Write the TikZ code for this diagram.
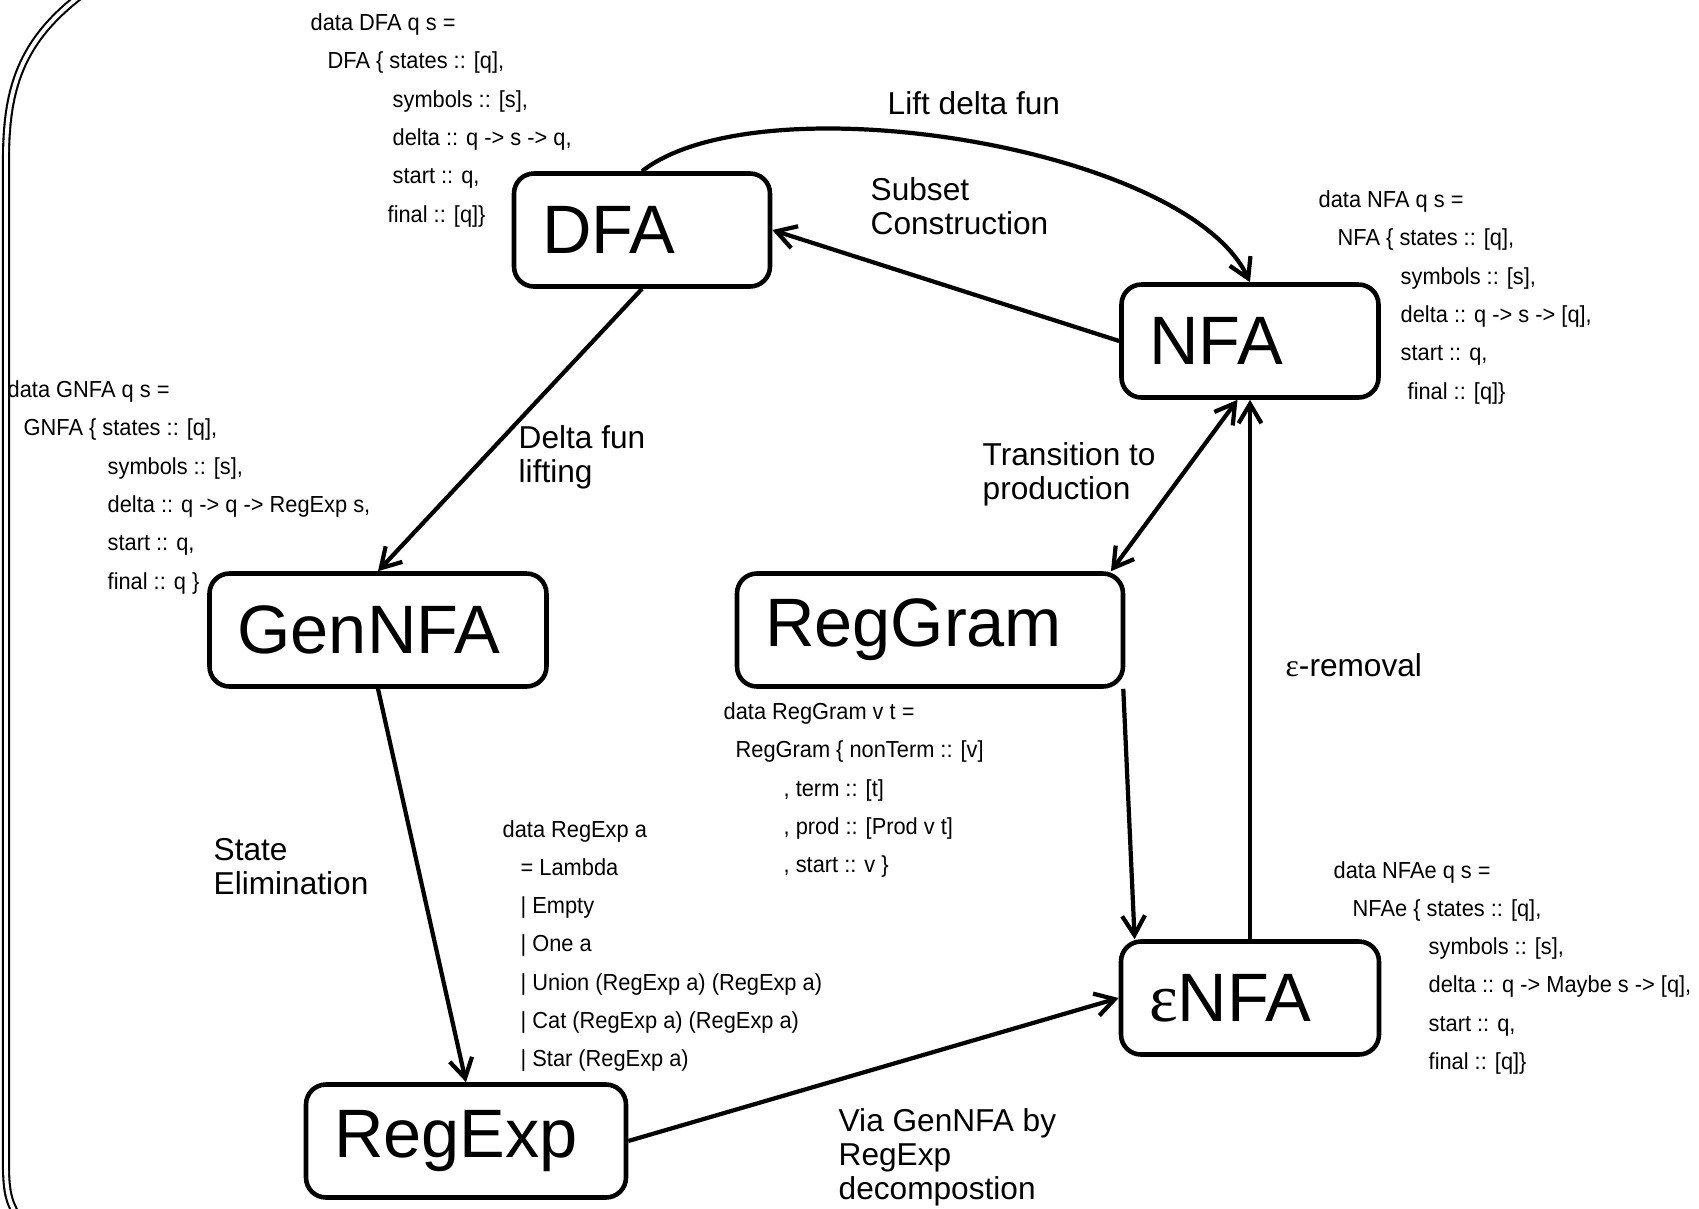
\documentclass[tikz,border=0pt]{standalone}
\usepackage{fontspec}
\setmainfont{Liberation Sans}
\newfontfamily\codefont[FakeStretch=0.94]{Liberation Sans}
\newfontfamily\epsfont{Liberation Serif}
\usetikzlibrary{arrows.meta}

\tikzset{
  autom/.style = {shape=rectangle, rounded corners=0.2cm,
                  draw, line width=1.3pt, align=left,
                  minimum height=1.13cm, inner xsep=0.28cm,
                  font=\fontsize{19.5}{23}\selectfont, text width=#1},
  conv/.style  = {draw, line width=1.2pt, ->},
  lbl/.style   = {anchor=west, inner sep=0pt, align=left,
                  font=\fontsize{9}{9.7}\selectfont},
  code/.style  = {anchor=north west, inner sep=0pt, align=left,
                  font=\codefont\fontsize{6.6}{10.9}\selectfont}
}

\begin{document}
\begin{tikzpicture}
[
    >={Straight Barb[length=5.5pt,width=6.5pt]}
  ]
\useasboundingbox (0,0) rectangle (16.99,-12.09);
\clip (0,0) rectangle (16.99,-12.09);

% frame on the left
\draw[double, line width=0.6pt, double distance=1.1pt]
  (0.95,0.15) .. controls (0.22,-0.35) and (0.06,-0.85) .. (0.06,-1.6)
  -- (0.06,-11.65) .. controls (0.06,-11.95) and (0.1,-12.05) .. (0.2,-12.2);

% automata
\node[autom=2.00cm] (DFA)     at (6.42,-2.30)  {DFA};
\node[autom=2.01cm] (NFA)     at (12.50,-3.41) {NFA};
\node[autom=2.81cm] (GenNFA)  at (3.78,-6.30)  {GenNFA};
\node[autom=3.30cm] (RegGram) at (9.30,-6.30)  {RegGram};
\node[autom=2.64cm] (RegExp)  at (4.66,-11.41) {RegExp};
\node[autom=2.02cm] (eNFA)    at (12.50,-9.98) {{\epsfont ε}NFA};

% conversions
\draw[conv] (DFA.north) to[out=38, in=115, looseness=0.62] (NFA.north);
\draw[conv] (NFA.west) -- (DFA.east);
\draw[conv] (DFA.south) -- (GenNFA.north);
\draw[conv, <->] (RegGram.18) -- (NFA.258);
\draw[conv] ([xshift=-0.02cm]RegGram.south east) -- (eNFA.153);
\draw[conv] (eNFA.north) -- (NFA.south);
\draw[conv] (GenNFA.south) -- (RegExp.north);
\draw[conv] (RegExp.east) -- (eNFA.west);

% labels
\node[lbl] (lift)   at (8.87,-1.03)  {Lift delta fun};
\node[lbl] (subset) at (8.70,-2.065) {Subset\\Construction};
\node[lbl] (dlift)  at (5.18,-4.57)  {Delta fun\\lifting};
\node[lbl] (trans)  at (9.82,-4.74)  {Transition to\\production};
\node[lbl] (epsrm)  at (12.85,-6.65) {{\epsfont ε}-removal};
\node[lbl] (elim)   at (2.13,-8.67)  {State\\Elimination};
\node[lbl] (via)    at (8.38,-11.57) {Via GenNFA by\\RegExp\\decompostion};

% data types
\node[code] (dfadata) at (3.10,-0.13) {data DFA q s =\\
  \hspace*{0.17cm}DFA \{ states :: [q],\\
  \hspace*{0.82cm}symbols :: [s],\\
  \hspace*{0.82cm}delta :: q -> s -> q,\\
  \hspace*{0.82cm}start :: q,\\
  \hspace*{0.77cm}final :: [q]\}};
\node[code] (gnfadata) at (0.07,-3.80) {data GNFA q s =\\
  \hspace*{0.16cm}GNFA \{ states :: [q],\\
  \hspace*{1.00cm}symbols :: [s],\\
  \hspace*{1.00cm}delta :: q -> q -> RegExp s,\\
  \hspace*{1.00cm}start :: q,\\
  \hspace*{1.00cm}final :: q \}};
\node[code] (nfadata) at (13.18,-1.90) {data NFA q s =\\
  \hspace*{0.19cm}NFA \{ states :: [q],\\
  \hspace*{0.82cm}symbols :: [s],\\
  \hspace*{0.82cm}delta :: q -> s -> [q],\\
  \hspace*{0.82cm}start :: q,\\
  \hspace*{0.89cm}final :: [q]\}};
\node[code] (nfaedata) at (13.33,-8.605) {data NFAe q s =\\
  \hspace*{0.19cm}NFAe \{ states :: [q],\\
  \hspace*{0.95cm}symbols :: [s],\\
  \hspace*{0.95cm}delta :: q -> Maybe s -> [q],\\
  \hspace*{0.95cm}start :: q,\\
  \hspace*{0.95cm}final :: [q]\}};
\node[code] (rexdata) at (5.02,-8.195) {data RegExp a\\
  \hspace*{0.18cm}= Lambda\\
  \hspace*{0.18cm}| Empty\\
  \hspace*{0.18cm}| One a\\
  \hspace*{0.18cm}| Union (RegExp a) (RegExp a)\\
  \hspace*{0.18cm}| Cat (RegExp a) (RegExp a)\\
  \hspace*{0.18cm}| Star (RegExp a)};
\node[code] (gramdata) at (7.23,-7.02) {data RegGram v t =\\
  \hspace*{0.12cm}RegGram \{ nonTerm :: [v]\\
  \hspace*{0.60cm}, term :: [t]\\
  \hspace*{0.60cm}, prod :: [Prod v t]\\
  \hspace*{0.60cm}, start :: v \}};
\end{tikzpicture}
\end{document}
